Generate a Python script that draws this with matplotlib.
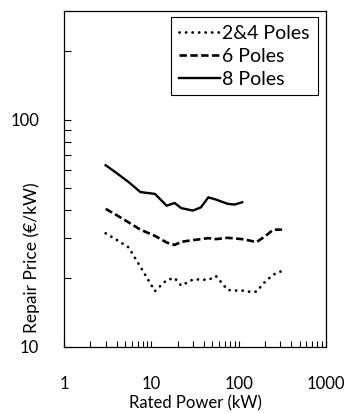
import matplotlib
matplotlib.use("Agg")
from matplotlib import pyplot as plt
from matplotlib.ticker import FixedLocator, NullFormatter, FixedFormatter

plt.rcParams['font.family'] = ['Lato', 'DejaVu Sans']

# rated power of the motors (kW)
power = [3, 4, 5.5, 7.5, 11, 15, 18.5, 22, 30, 37, 45, 55, 75, 90, 110, 132, 160, 200, 250, 315]
power8 = power[:15]

# repair price (EUR/kW)
price_2_4 = [31.6, 29.6, 27.4, 22.5, 17.6, 19.7, 20.1, 18.6, 19.8, 19.8, 19.7, 20.5, 17.8, 17.7,
             17.7, 17.5, 17.5, 19.3, 20.8, 21.6]
price_6 = [40.5, 38.0, 35.3, 32.8, 30.8, 28.8, 28.1, 29.0, 29.5, 29.8, 30.1, 29.8, 30.2, 30.0,
           29.8, 29.4, 28.9, 30.6, 32.8, 32.8]
price_8 = [63.0, 58.2, 53.1, 48.0, 47.1, 41.8, 43.0, 40.8, 39.8, 41.1, 45.5, 44.5, 42.6, 42.3, 43.3]

labels = ["2&4 Poles", "6 Poles", "8 Poles"]
xticks = [1, 10, 100, 1000]
yticks = [10, 100]

fig = plt.figure(figsize=(3.5, 4.13), dpi=100)
ax = fig.add_axes([0.183, 0.160, 0.748, 0.813])

ax.plot(power, price_2_4, color='black', lw=2.0, linestyle=(0, (0.05, 2.3)),
        dash_capstyle='round', label=labels[0])
ax.plot(power, price_6, color='black', lw=1.9, linestyle=(0, (2.8, 1.3)), label=labels[1])
ax.plot(power8, price_8, color='black', lw=1.7, label=labels[2])

ax.set_xscale('log')
ax.set_yscale('log')
ax.set_xlim(1, 1000)
ax.set_ylim(10, 300)

ax.xaxis.set_major_locator(FixedLocator(xticks))
ax.xaxis.set_major_formatter(FixedFormatter([str(t) for t in xticks]))
ax.yaxis.set_major_locator(FixedLocator(yticks))
ax.yaxis.set_major_formatter(FixedFormatter([str(t) for t in yticks]))
xminor = [m * 10 ** e for e in range(3) for m in range(2, 10)]
yminor = [m * 10 ** e for e in (1, 2) for m in range(2, 10) if m * 10 ** e < 300]
ax.xaxis.set_minor_locator(FixedLocator(xminor))
ax.yaxis.set_minor_locator(FixedLocator(yminor))
ax.xaxis.set_minor_formatter(NullFormatter())
ax.yaxis.set_minor_formatter(NullFormatter())

ax.tick_params(axis='x', which='both', direction='in', length=4, width=0.8,
               pad=21, labelsize=12)
ax.tick_params(axis='y', which='both', direction='in', length=5, width=0.8,
               pad=18, labelsize=12)
for s in ax.spines.values():
    s.set_linewidth(0.9)

ax.set_xlabel("Rated Power (kW)", fontsize=12, labelpad=2)
ax.set_ylabel("Repair Price (€/kW)", fontsize=12.5)
ax.yaxis.set_label_coords(-0.092, 0.265)

leg = ax.legend(loc='upper right', bbox_to_anchor=(0.969, 0.982), borderaxespad=0,
                fancybox=False, edgecolor='black', framealpha=1, fontsize=14,
                handlelength=2.1, handletextpad=0.15, labelspacing=0.3,
                borderpad=0.4)
leg.get_frame().set_linewidth(0.8)

fig.savefig("out.png", dpi=100)
